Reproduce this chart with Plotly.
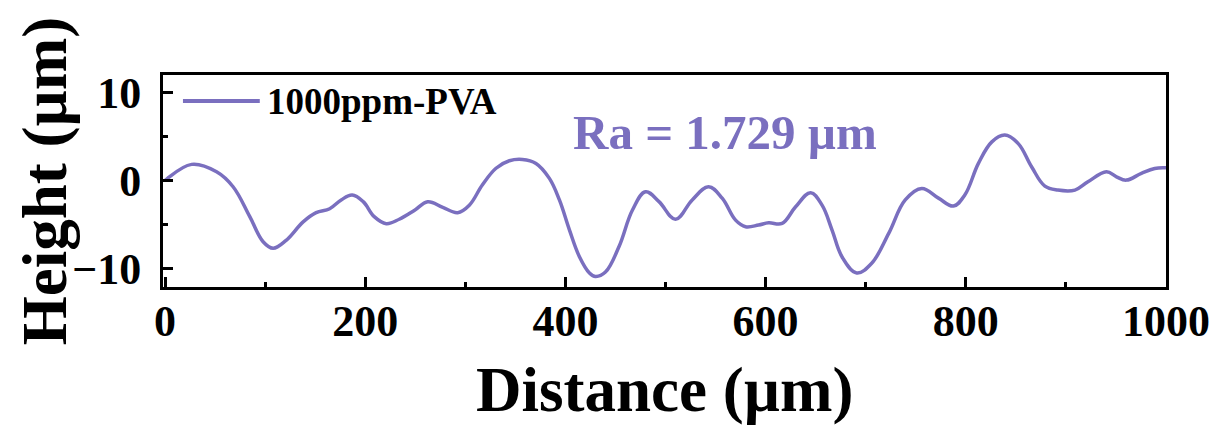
import plotly.graph_objects as go

# Surface profile data
distance_um = [0, 2, 26.6, 51.5, 68, 84.7, 98, 108, 121, 138, 151, 164.5, 176, 187, 198, 209, 221,
               234, 249, 262.5, 277.5, 292.4, 304, 317, 330.7, 344, 357, 370.6, 384, 394, 404,
               414, 424, 430, 440, 453.6, 467, 480, 493.5, 510, 526.7, 543, 556.6, 570, 580,
               593, 603, 616.5, 630, 645, 656.4, 666.3, 676.3, 691, 706, 723, 739.5, 756,
               772.7, 787.6, 799, 812.6, 826, 839, 852.4, 865.7, 879, 892, 909, 922, 940.5,
               950.5, 960.4, 975.4, 988.7, 1000]
height_um = [0.0, 0.2, 1.84, 1.0, -0.7, -4.1, -6.95, -7.7, -6.8, -4.7, -3.65, -3.2, -2.2, -1.65,
             -2.4, -4.1, -4.9, -4.4, -3.4, -2.4, -3.05, -3.65, -2.8, -0.5, 1.4, 2.25, 2.4, 1.95,
             0.25, -2.2, -5.6, -8.65, -10.5, -10.9, -10.4, -7.5, -3.35, -1.27, -2.4, -4.4, -2.2,
             -0.7, -2.0, -4.5, -5.25, -5.05, -4.8, -4.87, -2.98, -1.38, -2.8, -5.6, -8.66, -10.5,
             -9.4, -6.0, -2.2, -0.9, -2.0, -2.9, -1.65, 1.95, 4.4, 5.17, 4.2, 1.57, -0.63,
             -1.08, -1.08, -0.14, 1.0, 0.43, 0.05, 0.82, 1.38, 1.45]

series_name = "1000ppm-PVA"
ra_label = "Ra = 1.729 µm"
x_ticks = [0, 200, 400, 600, 800, 1000]
y_ticks = [-10, 0, 10]

LINE_COLOR = "#7A6FBF"
FONT = "Liberation Serif"

fig = go.Figure()
fig.add_trace(go.Scatter(
    x=distance_um, y=height_um, mode="lines", name=series_name,
    line=dict(color=LINE_COLOR, width=3.5, shape="spline", smoothing=1.1),
    showlegend=False,
))

axis_common = dict(
    showgrid=False, zeroline=False, showline=True, linecolor="black", linewidth=3,
    mirror=True, ticks="inside", tickcolor="black", tickwidth=3, ticklen=10,
    tickfont=dict(family=FONT, size=44, color="black", weight="bold"),
)

fig.update_xaxes(range=[-2, 1000], tickvals=x_ticks, ticktext=[str(v) for v in x_ticks],
                 minor=dict(dtick=100, ticks="inside", ticklen=5, tickwidth=3, tickcolor="black"),
                 ticklabelstandoff=-7, **axis_common)
fig.update_yaxes(range=[-12.1, 12.0], tickvals=y_ticks, ticktext=["\u221210", "0", "10"],
                 minor=dict(dtick=5, ticks="inside", ticklen=5, tickwidth=3, tickcolor="black"),
                 ticklabelstandoff=10, **axis_common)

# Legend (line sample + label)
fig.add_shape(type="line", xref="paper", yref="paper", x0=0.0199, x1=0.0965, y0=0.877, y1=0.877,
              line=dict(color=LINE_COLOR, width=4))
fig.add_annotation(text=series_name, xref="paper", yref="paper", x=0.1015, y=0.877,
                   xanchor="left", yanchor="middle", showarrow=False,
                   font=dict(family=FONT, size=37, color="black", weight="bold"))

# Ra label
fig.add_annotation(text=ra_label, xref="paper", yref="paper", x=0.560, y=0.728,
                   xanchor="center", yanchor="middle", showarrow=False,
                   font=dict(family=FONT, size=49, color=LINE_COLOR, weight="bold"))

# Axis titles
fig.add_annotation(text="Distance (µm)", xref="paper", yref="paper", x=0.5, y=-0.486,
                   xanchor="center", yanchor="middle", showarrow=False,
                   font=dict(family=FONT, size=63, color="black", weight="bold"))
fig.add_annotation(text="Height (µm)", xref="paper", yref="paper", x=-0.1174, y=0.5,
                   xanchor="center", yanchor="middle", showarrow=False, textangle=-90,
                   font=dict(family=FONT, size=63, color="black", weight="bold"))

# The page body adds an 8px offset, so the figure is 8px smaller and margins compensate.
fig.update_layout(
    width=1214, height=419,
    margin=dict(l=155, r=54, t=67, b=140),
    paper_bgcolor="white", plot_bgcolor="white",
)

fig.write_html("out.html")
